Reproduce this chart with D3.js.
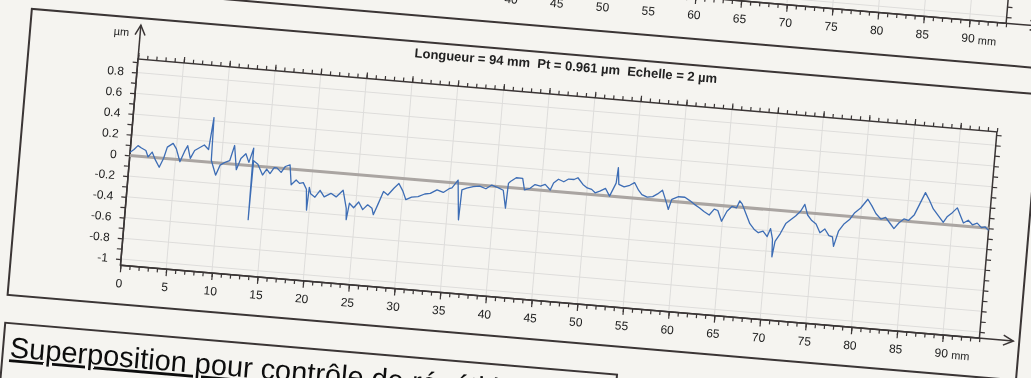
<!DOCTYPE html>
<html><head><meta charset="utf-8">
<script src="https://cdn.jsdelivr.net/npm/d3@7"></script>
<style>html,body{margin:0;padding:0;background:#f5f4f0;overflow:hidden}svg{display:block}</style>
</head><body>
<script>
// ---- data ----
const positionsMm = [0.0,0.4,0.8,1.2,1.7,2.0,2.4,2.8,3.3,3.7,4.0,4.6,5.0,5.5,5.9,6.2,6.6,7.0,7.5,8.0,8.5,8.8,8.9,9.2,9.5,9.9,10.4,10.9,11.3,11.7,12.1,12.6,13.0,13.4,13.45,13.5,14.0,14.6,15.0,15.4,15.8,16.1,16.6,17.0,17.5,17.8,18.3,18.7,19.1,19.5,19.7,19.8,20.0,20.5,21.0,21.5,22.2,22.8,23.5,24.0,24.1,24.3,24.8,25.3,25.8,26.3,26.8,27.0,27.4,27.9,28.4,29.0,29.5,30.0,30.4,31.0,31.7,32.4,33.0,33.7,34.4,35.0,35.3,35.9,36.3,36.4,36.9,37.6,38.3,39.0,39.6,40.3,40.9,41.3,41.4,41.6,42.2,42.9,43.2,43.8,44.3,44.9,45.4,46.0,46.3,46.8,47.4,47.9,48.5,48.9,49.5,50.0,50.5,50.9,51.4,52.0,52.5,53.1,53.2,53.4,54.0,54.6,55.1,55.6,56.0,56.6,57.2,57.7,58.2,58.8,59.0,59.3,60.0,60.7,61.3,61.8,62.4,62.9,63.5,64.0,64.4,64.9,65.4,65.9,66.4,66.7,67.0,67.5,68.0,68.5,69.0,69.5,70.0,70.3,70.6,70.7,70.9,71.4,71.9,72.4,72.9,73.4,73.8,74.2,74.7,75.2,75.7,76.2,76.7,77.1,77.3,77.7,78.2,78.8,79.3,79.9,80.6,81.1,81.6,82.2,82.7,83.2,83.7,84.2,84.7,85.2,85.8,86.3,86.8,87.3,87.8,88.4,89.0,89.4,89.9,90.4,90.8,91.2,91.7,92.2,92.7,93.2,93.6,94.0];
const profileUm = [0.03,0.06,0.10,0.08,0.06,0.00,0.05,-0.02,-0.09,0.00,0.11,0.15,0.10,-0.02,0.08,0.14,0.02,0.10,0.13,0.16,0.12,0.43,0.02,-0.05,-0.12,-0.02,0.01,0.03,0.18,-0.05,0.06,0.11,0.03,0.17,-0.52,0.05,0.02,-0.08,-0.02,-0.06,0.00,0.00,-0.04,0.02,0.04,-0.15,-0.10,-0.13,-0.12,-0.18,-0.38,-0.16,-0.22,-0.25,-0.18,-0.24,-0.20,-0.23,-0.16,-0.33,-0.44,-0.28,-0.32,-0.26,-0.33,-0.28,-0.31,-0.37,-0.27,-0.14,-0.17,-0.10,-0.05,-0.12,-0.20,-0.17,-0.16,-0.13,-0.12,-0.08,-0.10,-0.06,-0.05,0.03,-0.35,-0.06,-0.04,-0.02,-0.01,-0.03,0.01,-0.01,-0.03,-0.20,0.04,0.06,0.10,0.10,-0.01,0.01,0.05,0.04,0.06,0.01,0.08,0.12,0.10,0.13,0.13,0.15,0.09,0.06,0.05,0.02,0.04,0.07,0.00,0.13,0.28,0.12,0.10,0.12,0.15,0.08,0.04,0.02,0.03,0.06,0.10,-0.03,-0.08,0.02,0.05,0.05,0.02,-0.01,-0.04,-0.07,-0.10,-0.04,-0.05,-0.15,-0.05,0.00,-0.01,0.06,0.03,-0.06,-0.15,-0.20,-0.23,-0.21,-0.26,-0.18,-0.28,-0.45,-0.30,-0.22,-0.12,-0.08,-0.04,0.01,0.08,-0.02,-0.07,-0.10,-0.18,-0.14,-0.20,-0.21,-0.30,-0.15,-0.08,-0.03,0.04,0.09,0.18,0.12,0.05,0.00,0.02,-0.03,-0.08,-0.02,0.02,0.01,0.07,0.18,0.29,0.22,0.14,0.08,0.02,0.08,0.12,0.17,0.10,0.03,0.06,0.02,0.04,0.00,0.01,-0.02];
const xMajorTicks = [0,5,10,15,20,25,30,35,40,45,50,55,60,65,70,75,80,85,90];
const yTickValues = [0.8,0.6,0.4,0.2,0,-0.2,-0.4,-0.6,-0.8,-1];
const yTickLabels = ["0.8","0.6","0.4","0.2","0","-0.2","-0.4","-0.6","-0.8","-1"];
const xUnit = "mm";
const yUnit = "µm";
const headerText = "Longueur = 94 mm  Pt = 0.961 µm  Echelle = 2 µm";
const sectionTitle = "Superposition pour contrôle de répétitivité";

// ---- drawing ----
const W = 1031, H = 378;
const FONT = "'Liberation Sans', Arial, sans-serif";
const svg = d3.select("body").append("svg").attr("width", W).attr("height", H);
svg.append("defs").append("filter").attr("id", "soft")
  .append("feGaussianBlur").attr("stdDeviation", 0.45);
svg.append("rect").attr("width", W).attr("height", H).attr("fill", "#f5f4f0");
const page = svg.append("g").attr("filter", "url(#soft)")
  .append("g").attr("transform", "rotate(4.85,138,59)");

const L = 138, R = 1000, T = 59, B = 266;
const x = d3.scaleLinear().domain([0, 94]).range([L, R]);
const y = d3.scaleLinear().domain([-1.06, 0.93]).range([B, T]);
const ink = "#3a3535";

function drawPlot(g, main) {
  // grid
  g.append("g").selectAll("line").data(xMajorTicks.filter(d => d > 0)).join("line")
    .attr("x1", d => x(d)).attr("x2", d => x(d)).attr("y1", T).attr("y2", B)
    .attr("stroke", "#dedddb").attr("stroke-width", 1);
  g.append("g").selectAll("line").data(yTickValues).join("line")
    .attr("x1", L).attr("x2", R).attr("y1", d => y(d)).attr("y2", d => y(d))
    .attr("stroke", "#dedddb").attr("stroke-width", 1);

  // minor/major ticks via d3 axes
  const minorX = d3.range(0, 95, 1);
  const minorY = d3.range(-10, 10, 1).map(v => v / 10);
  const style = a => { a.selectAll("path").remove(); a.selectAll("line").attr("stroke", ink).attr("stroke-width", 1.2); a.selectAll("text").remove(); };
  g.append("g").attr("transform", `translate(0,${B})`)
    .call(d3.axisBottom(x).tickValues(minorX).tickSize(4)).call(style);
  g.append("g").attr("transform", `translate(0,${B})`)
    .call(d3.axisBottom(x).tickValues(xMajorTicks).tickSize(7)).call(style);
  g.append("g").attr("transform", `translate(0,${T})`)
    .call(d3.axisTop(x).tickValues(minorX).tickSize(4)).call(style);
  g.append("g").attr("transform", `translate(0,${T})`)
    .call(d3.axisTop(x).tickValues(xMajorTicks).tickSize(6)).call(style);
  g.append("g").attr("transform", `translate(${L},0)`)
    .call(d3.axisLeft(y).tickValues(minorY).tickSize(5)).call(style);
  g.append("g").attr("transform", `translate(${R},0)`)
    .call(d3.axisRight(y).tickValues(minorY).tickSize(5)).call(style);

  // x labels (the previous chart only shows its right-hand labels)
  const shownX = main ? xMajorTicks : xMajorTicks.filter(d => d >= 40);
  g.append("g").selectAll("text").data(shownX).join("text")
    .attr("x", d => x(d)).attr("y", B + 22).attr("text-anchor", "middle")
    .attr("font-family", FONT).attr("font-size", 12).attr("fill", "#222").text(d => d);
  g.append("text").attr("x", x(90) + 10).attr("y", B + 23)
    .attr("font-family", FONT).attr("font-size", 11).attr("fill", "#222").text(xUnit);

  // plot frame
  g.append("rect").attr("x", L).attr("y", T).attr("width", R - L).attr("height", B - T)
    .attr("fill", "none").attr("stroke", ink).attr("stroke-width", 1.5);

  // x axis extension with arrow
  g.append("line").attr("x1", L).attr("x2", 1034).attr("y1", B).attr("y2", B)
    .attr("stroke", ink).attr("stroke-width", 1.5);
  g.append("path").attr("d", `M1024,${B - 5}L1034,${B}L1024,${B + 5}`)
    .attr("fill", "none").attr("stroke", ink).attr("stroke-width", 1.5);

  if (main) {
    // y labels
    g.append("g").selectAll("text").data(yTickValues).join("text")
      .attr("x", L - 13).attr("y", d => y(d) + 4).attr("text-anchor", "end")
      .attr("font-family", FONT).attr("font-size", 12).attr("fill", "#222")
      .text((d, i) => yTickLabels[i]);
    // y axis extension with arrow
    g.append("line").attr("x1", L).attr("x2", L).attr("y1", B).attr("y2", 25)
      .attr("stroke", ink).attr("stroke-width", 1.5);
    g.append("path").attr("d", `M${L - 5},35L${L},25L${L + 5},35`)
      .attr("fill", "none").attr("stroke", ink).attr("stroke-width", 1.5);
    g.append("text").attr("x", L - 11).attr("y", 37).attr("text-anchor", "end")
      .attr("font-family", FONT).attr("font-size", 11).attr("fill", "#222").text(yUnit);
    // zero reference line
    g.append("line").attr("x1", x(0)).attr("x2", x(94)).attr("y1", y(0)).attr("y2", y(0))
      .attr("stroke", "#aaa5a2").attr("stroke-width", 3);
    const pts = positionsMm.map((p, i) => [p, profileUm[i]]);
    g.append("path").datum(pts)
      .attr("d", d3.line().x(d => x(d[0])).y(d => y(d[1])))
      .attr("fill", "none").attr("stroke", "#3d6db5").attr("stroke-width", 1.3)
      .attr("stroke-linejoin", "round");
    g.append("text").attr("x", 565).attr("y", 34).attr("text-anchor", "middle")
      .attr("font-family", FONT).attr("font-size", 13).attr("font-weight", "bold")
      .attr("fill", "#222").style("white-space", "pre").text(headerText);
  }
}

// previous chart (only its bottom is visible)
page.append("rect").attr("x", 28).attr("y", -340).attr("width", 1012).attr("height", 332)
  .attr("fill", "none").attr("stroke", ink).attr("stroke-width", 2);
drawPlot(page.append("g").attr("transform", "translate(0,-316)"), false);

// current chart frame
page.append("rect").attr("x", 28).attr("y", 18).attr("width", 1012).attr("height", 287)
  .attr("fill", "none").attr("stroke", ink).attr("stroke-width", 2);
drawPlot(page.append("g"), true);

// section box
page.append("rect").attr("x", 28).attr("y", 333).attr("width", 614).attr("height", 120)
  .attr("fill", "none").attr("stroke", ink).attr("stroke-width", 2);
page.append("text").attr("x", 35).attr("y", 367)
  .attr("font-family", FONT).attr("font-size", 29).attr("fill", "#111")
  .attr("text-decoration", "underline").text(sectionTitle);
</script>
</body></html>
